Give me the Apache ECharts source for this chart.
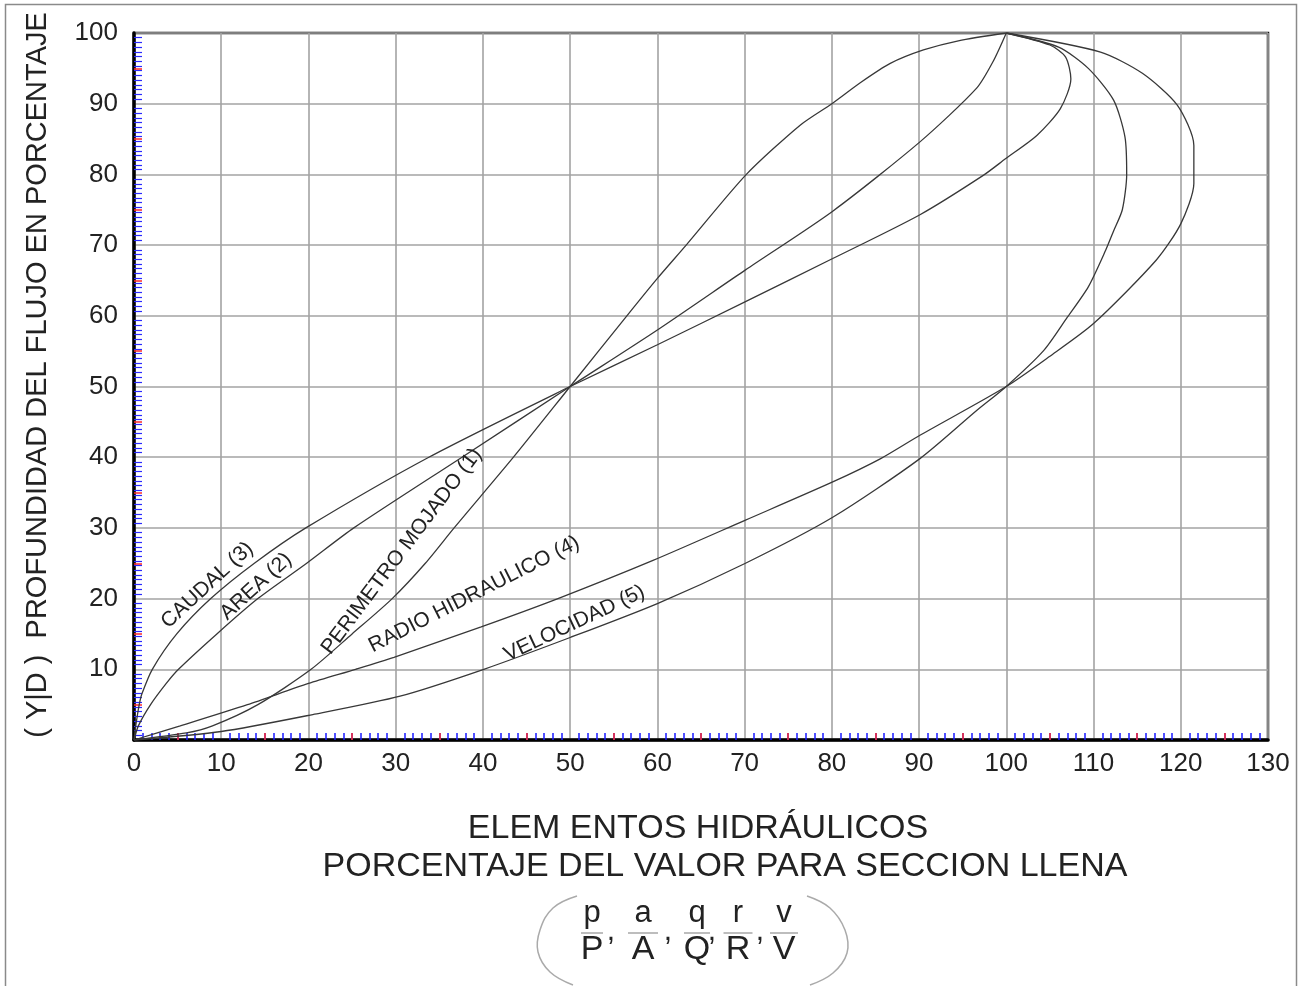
<!DOCTYPE html>
<html><head><meta charset="utf-8">
<script src="https://cdn.jsdelivr.net/npm/echarts@6/dist/echarts.min.js"></script>
<style>html,body{margin:0;padding:0;background:#fff;}#c{width:1304px;height:986px;}</style>
</head><body><div id="c"></div>
<script>
// ---- data (x = % of full-section value, y = Y/D %) ----
const perimetro = [[0,0],[6,1],[9,2],[14.2,5],[20.3,10],[25,15],[29.6,20],[33.4,25],[36.7,30],[43.5,40],[50,50],[56.5,60],[60,65.3],[63.3,70],[70.2,80],[76.4,87],[80,90],[83.3,93],[86.7,95.7],[90.5,97.6],[94.5,98.9],[100,100]];
const area = [[0,0],[0.5,2],[1.9,5],[3.7,8],[5.1,10],[9.5,15],[14.2,20],[19.8,25],[25.2,30],[37.6,40],[50,50],[60,58],[70.1,66.5],[80.1,74.8],[90.1,84.6],[96.6,92.2],[98.5,96],[100,100]];
const caudal = [[0,0],[0.2,2],[0.6,5],[0.9,6.5],[2.1,10],[4.9,15],[8.8,20],[13.8,25],[19.7,30],[33.8,40],[50,50],[60,55.9],[70.1,62],[80.1,68.1],[90.1,74.3],[97.4,79.9],[99.9,82.2],[103.5,85.5],[106.2,89.3],[107.4,93.5],[106.8,96.6],[105,98.3],[100,100]];
const radio = [[0,0],[5.3,2],[13,5],[20,8],[25.4,10],[29.8,11.7],[39.8,16],[48.6,20],[59.5,25.4],[70.1,31.1],[80.1,36.5],[85.6,39.8],[90.1,43.1],[100,50],[104.9,54.2],[110,58.9],[117.2,67.9],[120,73],[121.5,78.7],[121.5,84.1],[119.6,89.8],[115.6,94.3],[110.8,97.3],[100,100]];
const velocidad = [[0,0],[10,1.2],[20.5,3.6],[30.5,6.2],[40.1,10],[50,14.5],[60,19.3],[70.1,25],[80.1,31.5],[90.1,39.8],[96.6,46.6],[100,50],[104.3,55.1],[107,59.8],[109.4,64.1],[111.4,69.3],[112.3,72],[113.3,75],[113.8,80],[113.6,85.3],[112.3,90.5],[109.4,95],[106,98],[100,100]];

const seriesNames = ['PERIMETRO MOJADO (1)','AREA (2)','CAUDAL (3)','RADIO HIDRAULICO (4)','VELOCIDAD (5)'];
// label anchor (data coords) and angle (deg) for each curve label
const labelAnchors = [[30.7,26.7],[14.0,21.7],[8.4,21.9],[39.0,20.6],[50.5,16.5]];
const labelAngles = [53,42.5,42.6,27,25.2];

const xMin = 0, xMax = 130, xStep = 10;
const yMin = 0, yMax = 100, yStep = 10;
const redTicksX = [5,15,25,35,45,55,65,75,85,95,105,115,125];
const redTicksY = [5,15,25,35,45,55,65,75,85,95];

const titleLine1 = 'ELEM ENTOS HIDRÁULICOS';
const titleLine2 = 'PORCENTAJE DEL VALOR PARA SECCION LLENA';
const yTitle = '( Y|D )  PROFUNDIDAD DEL FLUJO EN PORCENTAJE';
const numerators = ['p','a','q','r','v'];
const denominators = ['P','A','Q','R','V'];

const FONT = 'Liberation Sans, Arial, sans-serif';
const chart = echarts.init(document.getElementById('c'), null, {renderer:'canvas'});
const lineColor = '#383838';

function mkSeries(name, data){
  return {name, type:'line', data, showSymbol:false, symbol:'none', smooth:0.25, xAxisIndex:0, yAxisIndex:0,
    lineStyle:{color:lineColor, width:1.3}, silent:true, animation:false};
}

chart.setOption({
  animation:false,
  backgroundColor:'#fff',
  grid:{left:134, top:33, right:36, bottom:246, show:true, borderColor:'#111', borderWidth:2.5, backgroundColor:'transparent', containLabel:false},
  xAxis:[{
    type:'value', min:xMin, max:xMax, interval:xStep,
    axisLine:{show:true, onZero:false, lineStyle:{color:'#000', width:3.5}},
    axisTick:{show:false, inside:true},
    minorTick:{show:true, splitNumber:10, length:7, lineStyle:{color:'#1a1aff', width:1.5}},
    axisLabel:{fontSize:26, color:'#222', margin:11, fontFamily:FONT},
    splitLine:{show:true, lineStyle:{color:'#a3a3a3', width:1.6}},
    minorSplitLine:{show:false}
  },{
    type:'value', min:xMin, max:xMax, interval:xStep, position:'bottom',
    axisLine:{show:false}, axisLabel:{show:false}, splitLine:{show:false},
    axisTick:{show:true, inside:true, length:7, customValues:redTicksX, lineStyle:{color:'#ff2a2a', width:1.5}}
  }],
  yAxis:[{
    type:'value', min:yMin, max:yMax, interval:yStep,
    axisLine:{show:true, onZero:false, lineStyle:{color:'#000', width:3.5}},
    axisTick:{show:false, inside:true},
    minorTick:{show:true, splitNumber:15, length:8, lineStyle:{color:'#2a2aff', width:1.2}},
    axisLabel:{fontSize:26, color:'#222', margin:16, fontFamily:FONT, showMinLabel:false},
    splitLine:{show:true, lineStyle:{color:'#a3a3a3', width:1.6}},
    minorSplitLine:{show:false}
  },{
    type:'value', min:yMin, max:yMax, interval:yStep, position:'left',
    axisLine:{show:false}, axisLabel:{show:false}, splitLine:{show:false},
    axisTick:{show:true, inside:true, length:8, customValues:redTicksY, lineStyle:{color:'#ff2a2a', width:1.5}}
  }],
  series:[mkSeries(seriesNames[0],perimetro), mkSeries(seriesNames[1],area), mkSeries(seriesNames[2],caudal), mkSeries(seriesNames[3],radio), mkSeries(seriesNames[4],velocidad)]
});

// ---- text and decorations ----
const g = [];
// outer frame of the picture
g.push({type:'rect', shape:{x:5.5, y:4.5, width:1291, height:1000}, style:{fill:'none', stroke:'#8a8a8a', lineWidth:1.5}, z:1});
// curve labels
for (let i=0;i<seriesNames.length;i++){
  const p = chart.convertToPixel({xAxisIndex:0, yAxisIndex:0}, labelAnchors[i]);
  g.push({type:'text', x:p[0], y:p[1], rotation:labelAngles[i]*Math.PI/180,
    style:{text:seriesNames[i], fontSize:21, fontFamily:FONT, fill:'#222', align:'center', verticalAlign:'middle'}, z:10});
}
// y axis title
g.push({type:'text', x:38, y:375, rotation:Math.PI/2,
  style:{text:yTitle, fontSize:29, fontFamily:FONT, fill:'#222', align:'center', verticalAlign:'middle'}, z:10});
// x axis titles
g.push({type:'text', x:698, y:829, style:{text:titleLine1, fontSize:34, fontFamily:FONT, fill:'#222', align:'center', verticalAlign:'middle'}, z:10});
g.push({type:'text', x:725, y:867, style:{text:titleLine2, fontSize:34, fontFamily:FONT, fill:'#222', align:'center', verticalAlign:'middle'}, z:10});
// formula
const fx = [592, 643, 697, 738, 784];
const bw = [18, 26, 22, 25, 24];
for (let i=0;i<5;i++){
  g.push({type:'text', x:fx[i], y:913, style:{text:numerators[i], fontSize:31, fontFamily:FONT, fill:'#222', align:'center', verticalAlign:'middle'}, z:10});
  g.push({type:'text', x:fx[i], y:950, style:{text:denominators[i], fontSize:34, fontFamily:FONT, fill:'#222', align:'center', verticalAlign:'middle'}, z:10});
  g.push({type:'line', shape:{x1:fx[i]-bw[i]/2-2, y1:933, x2:fx[i]+bw[i]/2+2, y2:933}, style:{stroke:'#999', lineWidth:1.3}, z:10});
}
const commaX = [611, 668, 712, 760];
for (const cx of commaX){
  g.push({type:'text', x:cx, y:932, style:{text:',', fontSize:30, fontFamily:FONT, fill:'#222', align:'center', verticalAlign:'middle'}, z:10});
}
g.push({type:'polyline', shape:{points:[[577,896],[553,908],[540,930],[538,952],[550,972],[573,985]], smooth:0.4}, style:{stroke:'#aaa', lineWidth:1.5, fill:'none'}, z:10});
g.push({type:'polyline', shape:{points:[[807,896],[830,908],[845,930],[847,953],[833,973],[810,985]], smooth:0.4}, style:{stroke:'#aaa', lineWidth:1.5, fill:'none'}, z:10});
chart.setOption({graphic:{elements:g}});
</script></body></html>
